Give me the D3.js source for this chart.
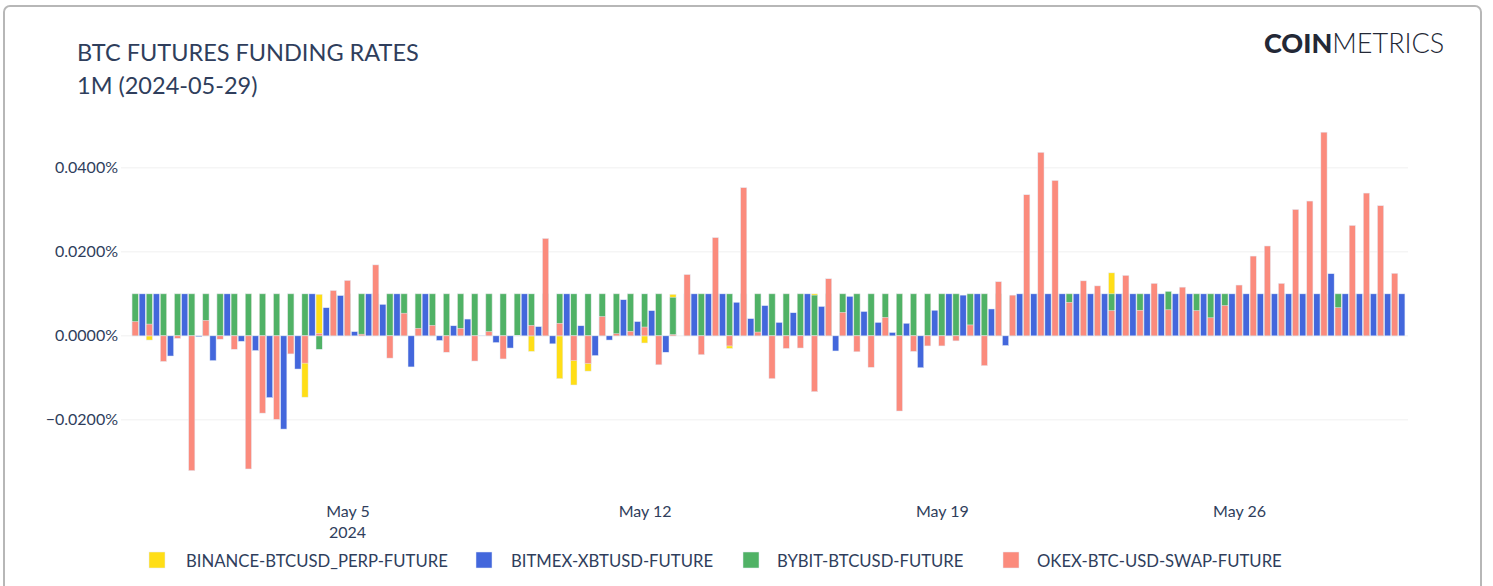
<!DOCTYPE html>
<html>
<head>
<meta charset="utf-8">
<script src="https://cdn.jsdelivr.net/npm/d3@7"></script>
<style>
  body { margin: 0; background: #fff; }
  text { font-family: Lato, "Open Sans", sans-serif; }
</style>
</head>
<body>
<script>
// series names + colours
var seriesNames = ["BINANCE-BTCUSD_PERP-FUTURE", "BITMEX-XBTUSD-FUTURE", "BYBIT-BTCUSD-FUTURE", "OKEX-BTC-USD-SWAP-FUTURE"];
var seriesColors = ["#FFDE17", "#4367DC", "#50B266", "#FB8B7D"];

// funding rates in %, one value every 8h starting 2024-04-30 00:00 UTC (bitmex is 4h later)
var binance = [0.01,-0.001,0.01,0.01,0.01,0.01,0.01,0.01,0.01,0.01,
  0.01,0.01,-0.0146,0.0099,0.01,0.01,0.01,0.01,0.01,0.01,
  0.01,0.01,0.01,0.01,0.01,0.01,0.01,0.01,-0.0037,0.01,
  -0.0102,-0.0117,-0.0084,0.01,0.01,0.01,-0.0017,0.01,0.0099,0.01,
  0.01,0.01,-0.003,0.01,0.01,0.01,0.01,0.01,0.01,0.01,
  0.01,0.01,0.01,0.01,0.01,0.01,0.01,0.01,0.01,0.01,
  0.01,0.01,0.009,0.01,0.01,0.01,0.01,0.01,0.01,0.015,
  0.01,0.01,0.01,0.01,0.01,0.01,0.01,0.01,0.01,0.01,
  0.01,0.01,0.01,0.01,0.01,0.01,0.01,0.01,0.01,0.01];
var bitmex = [0.01,0.01,-0.0048,0.01,-0.0002,-0.0059,0.01,-0.0013,-0.0035,-0.0147,
  -0.0222,-0.0079,0.01,0.0067,0.0096,0.001,0.01,0.0075,0.01,-0.0074,
  0.01,-0.0011,0.0024,0.004,0.0001,-0.0016,-0.0029,0.01,0.0022,-0.0019,
  0.01,0.0024,-0.0047,-0.001,0.0086,0.0034,0.006,-0.0039,0,0.01,
  0.01,0.01,0.008,0.0041,0.0072,0.0032,0.0055,0.01,0.007,-0.0036,
  0.0094,0.0058,0.0032,0.0008,0.003,-0.0076,0.0061,0.01,0.0097,0.01,
  0.0064,-0.0023,0.01,0.01,0.01,0.01,0.01,0.01,0.01,0.01,
  0.01,0.01,0.01,0.01,0.01,0.01,0.01,0.01,0.01,0.01,
  0.01,0.01,0.01,0.01,0.0148,0.01,0.01,0.01,0.01,0.01];
var bybit = [0.01,0.01,0.01,0.01,0.01,0.01,0.01,0.01,0.01,0.01,
  0.01,0.01,0.01,-0.0032,0.01,0.01,0.01,0.01,0.01,0.01,
  0.01,0.01,0.01,0.01,0.01,0.01,0.01,0.01,0.01,0.01,
  0.01,0.01,0.01,0.01,0.01,0.01,0.01,0.01,0.0092,0.01,
  0.01,0.01,0.01,0.01,0.01,0.01,0.01,0.01,0.0097,0.01,
  0.01,0.01,0.01,0.01,0.01,0.01,0.01,0.01,0.01,0.01,
  0.01,0.01,0.0095,0.01,0.01,0.01,0.01,0.01,0.01,0.01,
  0.01,0.01,0.01,0.0106,0.01,0.01,0.01,0.01,0.01,0.01,
  0.01,0.01,0.01,0.01,0.01,0.01,0.01,0.01,0.01,0.01];
var okex = [0.0034,0.0028,-0.0061,-0.0006,-0.0321,0.0037,-0.0008,-0.0032,-0.0317,-0.0184,
  -0.0199,-0.0043,-0.0065,0.0006,0.0108,0.0132,0.0004,0.0169,-0.0053,0.0054,
  0.0018,0.0025,-0.0039,0.0018,-0.006,0.001,-0.0055,0.0001,0.0025,0.0232,
  0.003,-0.0059,-0.0066,0.0046,0.0005,0.0011,0.0021,-0.0069,0.0003,0.0146,
  -0.0045,0.0234,-0.0024,0.0353,0.0009,-0.0102,-0.003,-0.0029,-0.0133,0.0136,
  0.0056,-0.0038,-0.0075,0.0044,-0.0179,-0.0037,-0.0024,-0.0024,-0.0012,0.0026,
  -0.0071,0.0129,0.0097,0.0336,0.0437,0.037,0.008,0.0131,0.0119,0.006,
  0.0144,0.0061,0.0125,0.0062,0.0116,0.006,0.0043,0.0072,0.0121,0.019,
  0.0214,0.0125,0.0301,0.0321,0.0485,0.0067,0.0263,0.034,0.031,0.0149];
var seriesOffsetHours = [0, 4, 0, 0];

var yTicks = [-0.02, 0, 0.02, 0.04];
var xTickDates = ["2024-05-05", "2024-05-12", "2024-05-19", "2024-05-26"];

var width = 1493, height = 586;
var margin = {left: 121, right: 85, top: 120, bottom: 104};

var svg = d3.select("body").append("svg").attr("width", width).attr("height", height);

// card border
svg.append("rect").attr("x", 4).attr("y", 6).attr("width", 1477).attr("height", 620)
  .attr("rx", 6).attr("fill", "#fff").attr("stroke", "#b7b7b7").attr("stroke-width", 2);

var start = new Date(Date.UTC(2024, 3, 30, 0));
var times = d3.utcHour.every(8).range(start, new Date(Date.UTC(2024, 4, 30, 0)));

var x = d3.scaleUtc()
  .domain([new Date(Date.UTC(2024, 3, 29, 16)), new Date(Date.UTC(2024, 4, 29, 23, 30))])
  .range([margin.left, width - margin.right]);
var y = d3.scaleLinear()
  .domain([-0.0348, 0.0514])
  .range([height - margin.bottom, margin.top]);

// grid
svg.append("g").selectAll("line").data(yTicks).join("line")
  .attr("x1", margin.left).attr("x2", width - margin.right)
  .attr("y1", d => y(d)).attr("y2", d => y(d))
  .attr("stroke", "#f0f0f0").attr("stroke-width", 1);

var fmt = d3.format(".4f");
var yAxis = d3.axisLeft(y).tickValues(yTicks).tickSize(0).tickPadding(3)
  .tickFormat(d => fmt(d) + "%");
var gy = svg.append("g").attr("transform", "translate(" + margin.left + ",0)").call(yAxis);
gy.select(".domain").remove();
gy.selectAll("text").attr("font-size", 16).attr("fill", "#2f3e5c").attr("font-family", "Lato");

// bars, overlaid in trace order
var barW = (x(new Date(Date.UTC(2024, 4, 1, 4))) - x(new Date(Date.UTC(2024, 4, 1, 0)))) * 0.88;
var allSeries = [binance, bitmex, bybit, okex];
allSeries.forEach(function(vals, s) {
  svg.append("g").selectAll("rect").data(vals).join("rect")
    .attr("x", (d, i) => x(d3.utcHour.offset(times[i], seriesOffsetHours[s])) - barW / 2)
    .attr("y", d => y(Math.max(0, d)))
    .attr("width", barW)
    .attr("height", d => Math.abs(y(d) - y(0)))
    .attr("fill", seriesColors[s])
    .attr("stroke", "#E5ECF6").attr("stroke-width", 0.5);
});

// x axis
var xAxis = d3.axisBottom(x).tickValues(xTickDates.map(d => new Date(d + "T00:00Z")))
  .tickSize(0).tickPadding(0).tickFormat(d3.utcFormat("%b %-d"));
var gx = svg.append("g").attr("transform", "translate(0," + (height - margin.bottom) + ")").call(xAxis);
gx.select(".domain").remove();
gx.selectAll("text").attr("font-size", 16).attr("fill", "#2f3e5c").attr("font-family", "Lato")
  .attr("dy", null).attr("y", 35);
gx.append("text").attr("x", x(new Date(xTickDates[0] + "T00:00Z"))).attr("y", 56)
  .attr("text-anchor", "middle").attr("font-size", 16).attr("fill", "#2f3e5c").text("2024");

// title
svg.append("text").attr("x", 77).attr("y", 61).attr("font-size", 23.5).attr("fill", "#2f3e5c")
  .text("BTC FUTURES FUNDING RATES");
svg.append("text").attr("x", 77).attr("y", 94).attr("font-size", 23.5).attr("fill", "#2f3e5c")
  .text("1M (2024-05-29)");

// logo
var logo = svg.append("text").attr("x", 1264).attr("y", 53).attr("font-size", 27).attr("fill", "#232836");
logo.append("tspan").attr("font-weight", 900).text("COIN");
logo.append("tspan").attr("font-weight", 300).text("METRICS");

// legend
var legendX = [149, 476, 743, 1003];
var legendTextX = [186, 511, 777, 1037];
var leg = svg.append("g").selectAll("g").data(seriesNames).join("g");
leg.append("rect").attr("x", (d, i) => legendX[i]).attr("y", 552).attr("width", 16).attr("height", 16)
  .attr("fill", (d, i) => seriesColors[i]).attr("stroke", "#E5ECF6").attr("stroke-width", 0.5);
leg.append("text").attr("x", (d, i) => legendTextX[i]).attr("y", 567).attr("font-size", 16.7)
  .attr("fill", "#2f3e5c").text(d => d);
</script>
</body>
</html>
